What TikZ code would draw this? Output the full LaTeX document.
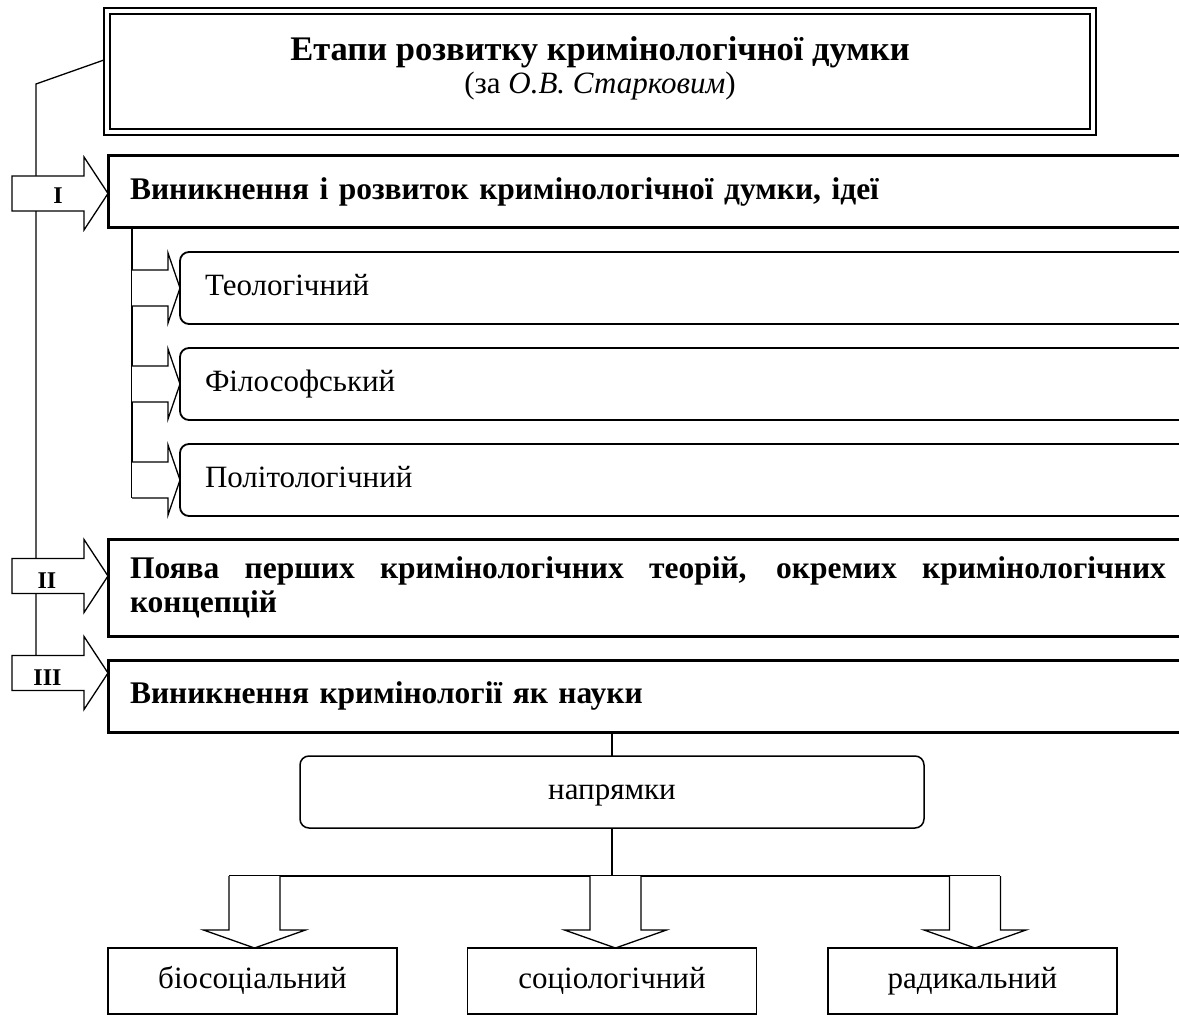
\documentclass[tikz,border=0pt]{standalone}
\usepackage{fontspec}
\setmainfont{Liberation Serif}
\usetikzlibrary{positioning}

\tikzset{
  stagebox/.style={rectangle, draw, line width=3pt, outer sep=0pt, anchor=west,
    minimum height=72pt, text width=1060pt, inner xsep=22pt, align=left,
    font=\fontsize{31.5}{34}\selectfont\bfseries},
  kindbox/.style={rectangle, draw, line width=1.8pt, rounded corners=9pt, outer sep=0pt,
    anchor=west, minimum height=72pt, text width=1060pt, inner xsep=25pt, align=left},
  schoolbox/.style={rectangle, draw, line width=1.3pt, outer sep=0pt,
    minimum width=289pt, minimum height=66pt},
  oneline/.style={text height=22pt, text depth=7pt},
  numlabel/.style={font=\fontsize{24}{26}\selectfont\bfseries, anchor=base},
  stagearrow/.pic={
    \draw[line width=1.3pt, fill=white] (0,-17.5) -- (72,-17.5) -- (72,-36.5) -- (96,0)
      -- (72,36.5) -- (72,17.5) -- (0,17.5) -- cycle;
  },
  kindarrow/.pic={
    \draw[line width=1.3pt, fill=white] (0,-18) -- (36,-18) -- (36,-35) -- (48,0)
      -- (36,35) -- (36,18) -- (0,18);
  },
  schoolarrow/.pic={
    \draw[line width=1.3pt, fill=white] (-25.5,0) -- (-25.5,54) -- (-51,54) -- (0,72)
      -- (51,54) -- (25.5,54) -- (25.5,0);
  },
}

\begin{document}
\begin{tikzpicture}[x=1pt, y=-1pt, font=\fontsize{31}{33}\selectfont]
    \clip (0,0) rectangle (1179,1016);
    \fill[white] (0,0) rectangle (1179,1016);

    % TITLE
    \node (titlebox) [rectangle, draw, line width=2.4pt, outer sep=0pt,
      minimum width=992pt, minimum height=127pt] at (600,71.5) {};
    \draw[line width=1.2pt] ([shift={(6pt,-6pt)}]titlebox.north west)
      rectangle ([shift={(-6pt,6pt)}]titlebox.south east);
    \node (titletext) [align=center, font=\fontsize{31}{33}\selectfont] at (600,68)
      {{\fontsize{34.5}{33}\selectfont\bfseries Етапи розвитку кримінологічної думки}\\
       (за \textit{О.В. Старковим})};

    % STAGES
    \coordinate (bend) at (36,84);
    \coordinate (trunkend) at (36,655);
    \draw[line width=1.3pt] ([yshift=11.5pt]titlebox.west) -- (bend) -- (trunkend);

    \pic at (12,193.5) {stagearrow};
    \pic at (12,576) {stagearrow};
    \pic at (12,673) {stagearrow};
    \node (numI) [numlabel] at (58,204) {I};
    \node (numII) [numlabel] at (47,588) {II};
    \node (numIII) [numlabel] at (47.5,685) {III};

    \node (stageI) [stagebox, oneline] at (108,192)
      {Виникнення і розвиток кримінологічної думки, ідеї};
    \node (stageII) [stagebox, minimum height=97pt, text width=1036pt, align=justify] at (108,587.5)
      {\hyphenpenalty=10000 Поява перших кримінологічних теорій, окремих кримінологічних концепцій};
    \node (stageIII) [stagebox, oneline] at (108,696)
      {Виникнення кримінології як науки};

    % KINDS OF THOUGHT
    \coordinate (kindend) at (132,498);
    \draw[line width=1.3pt] ([xshift=24pt]stageI.south west) -- (kindend);
    \pic at (132,288) {kindarrow};
    \pic at (132,384) {kindarrow};
    \pic at (132,480) {kindarrow};
    \node (theol) [kindbox, oneline] at (180,288) {Теологічний};
    \node (philos) [kindbox, oneline] at (180,384) {Філософський};
    \node (polit) [kindbox, oneline] at (180,480) {Політологічний};

    % SCHOOLS
    \node (napr) [rectangle, draw, line width=1.5pt, rounded corners=9pt, outer sep=0pt,
      minimum width=624pt, minimum height=72pt, oneline] at (612,792) {напрямки};
    \draw[line width=1.3pt] (napr.north |- stageIII.south) -- (napr.north);
    \coordinate (fork) at (612,876);
    \coordinate (forkL) at (229,876);
    \coordinate (forkR) at (1000,876);
    \draw[line width=1.3pt] (napr.south) -- (fork);
    \draw[line width=1.3pt] (forkL) -- (forkR);
    \pic at (254.5,876) {schoolarrow};
    \pic at (615.5,876) {schoolarrow};
    \pic at (975,876) {schoolarrow};
    \node (biosoc) [schoolbox, oneline] at (252.5,981) {біосоціальний};
    \node (sociol) [schoolbox, oneline] at (612,981) {соціологічний};
    \node (radic) [schoolbox, oneline] at (972.5,981) {радикальний};
\end{tikzpicture}
\end{document}
